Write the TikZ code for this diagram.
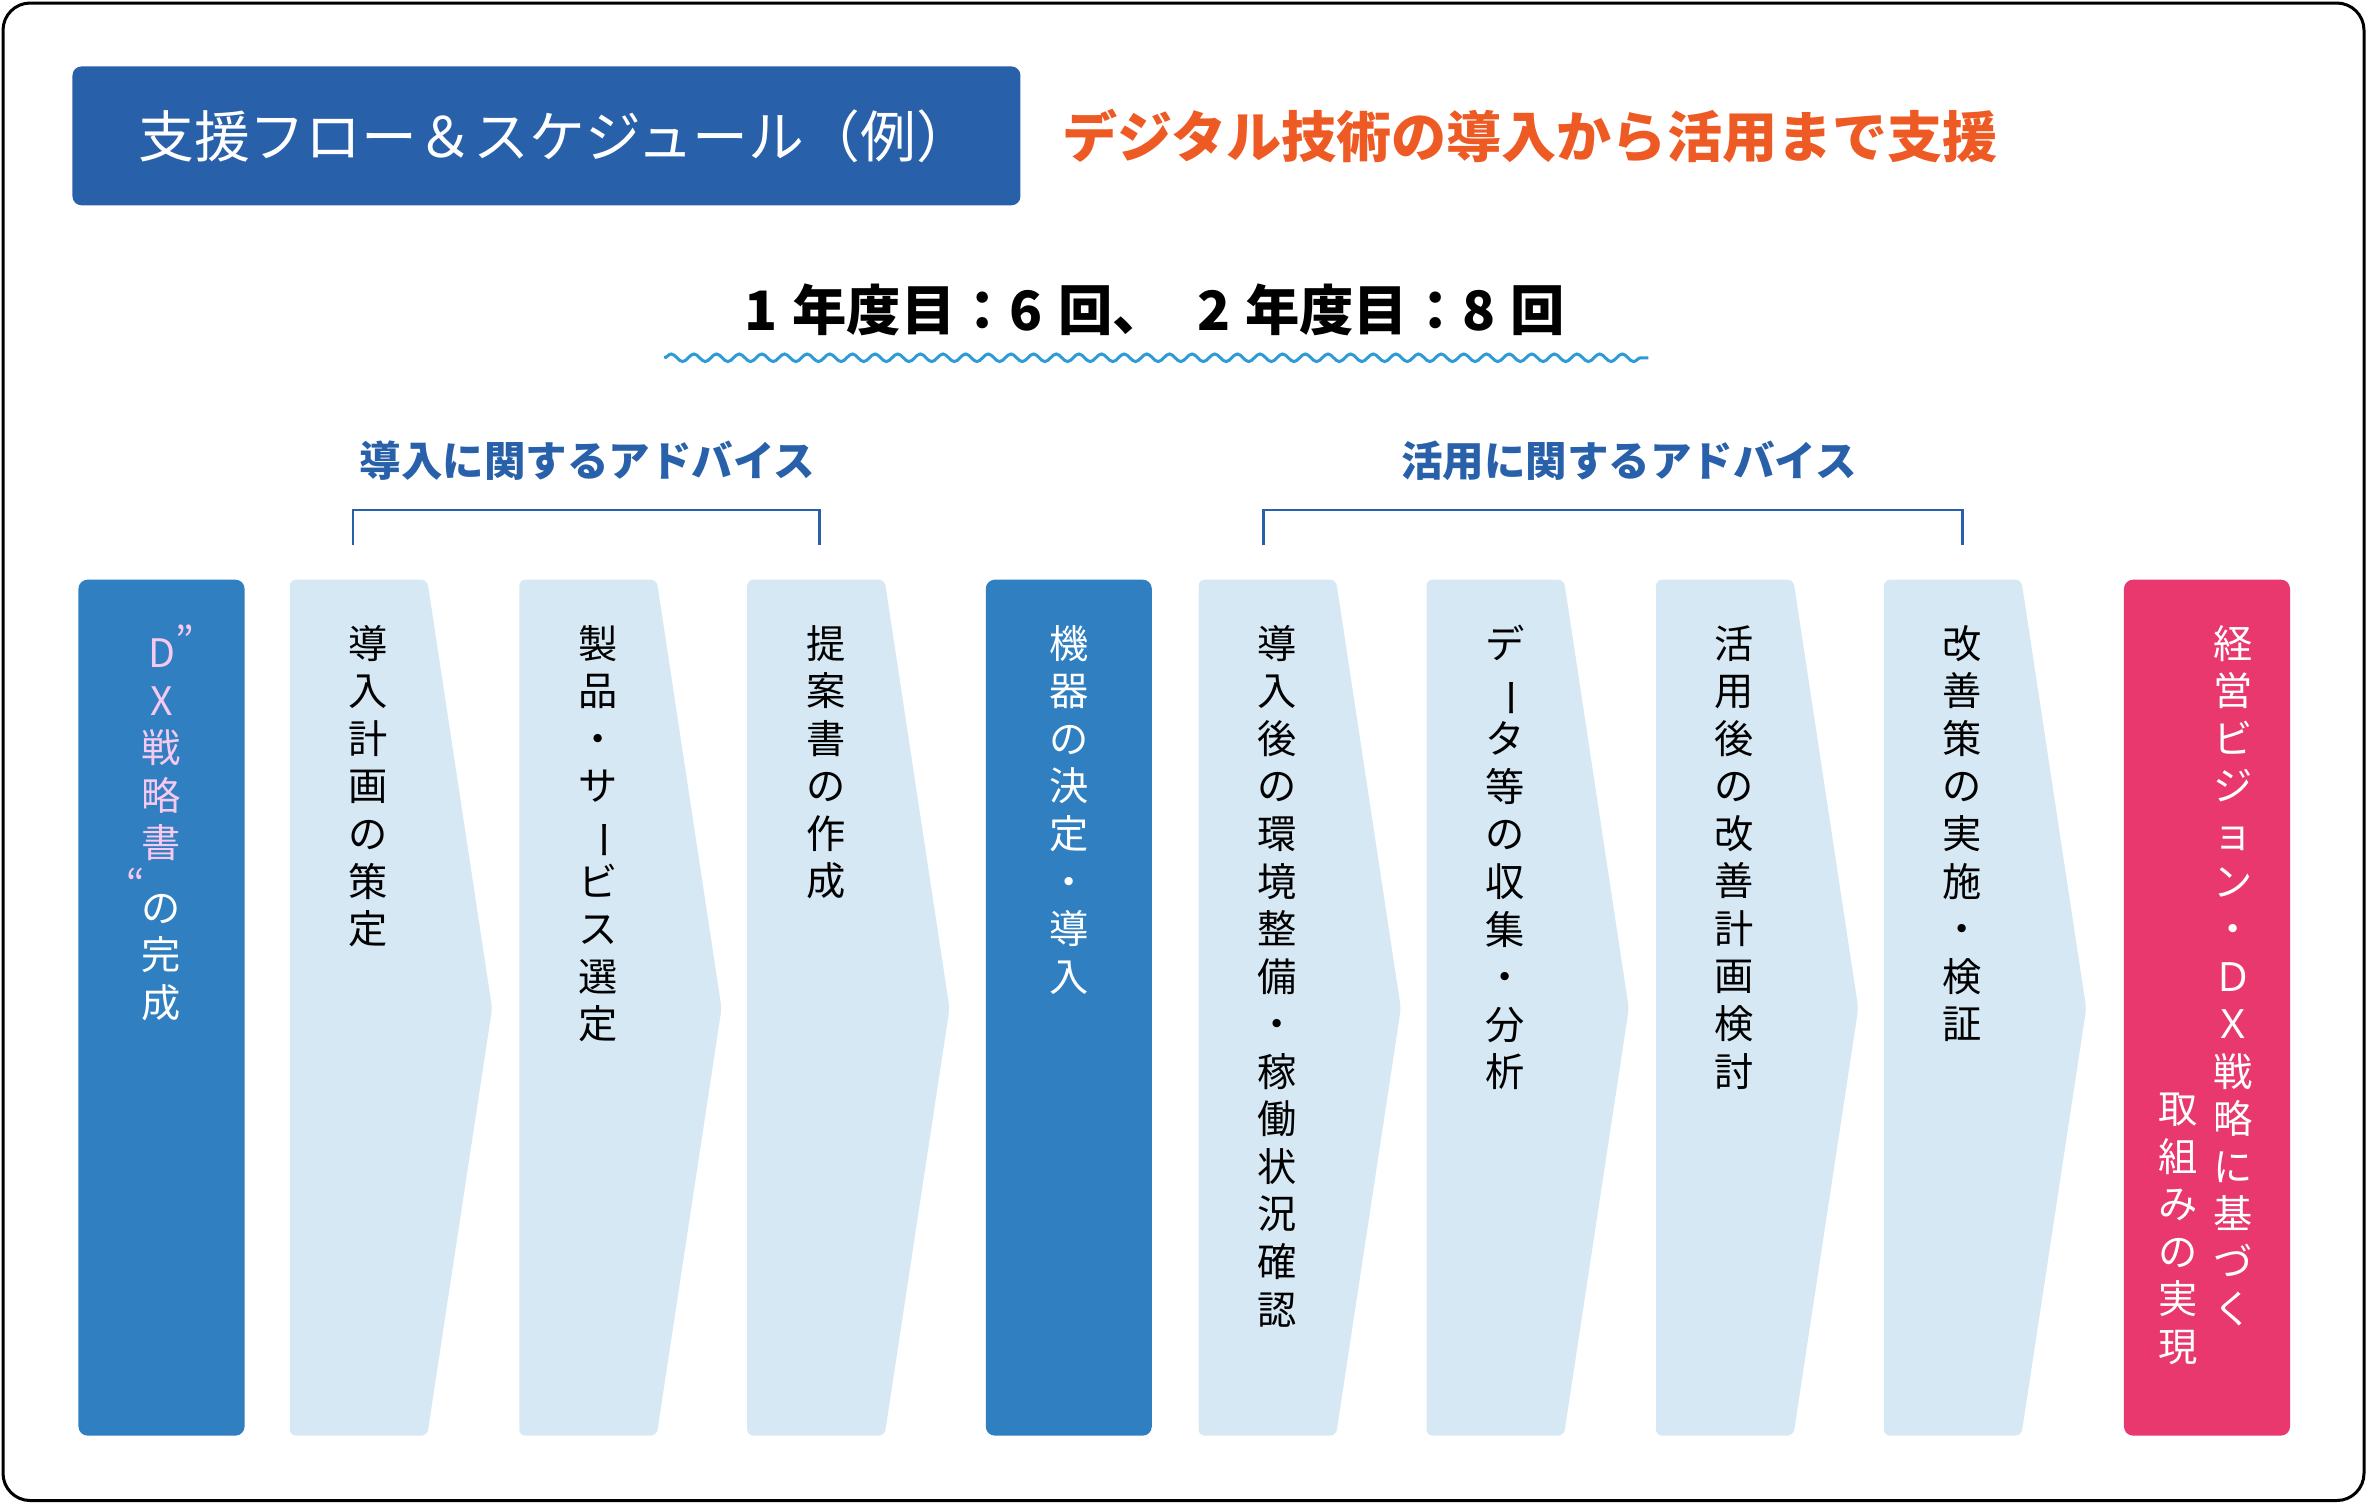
\documentclass[tikz,border=0pt]{standalone}
\usepackage{fontspec}
\usepackage{graphicx}
\setmainfont{Noto Sans CJK JP}
\usetikzlibrary{decorations.pathmorphing, positioning}
\definecolor{titleblue}{RGB}{40,96,170}
\definecolor{colblue}{RGB}{47,127,193}
\definecolor{chevfill}{RGB}{214,232,243}
\definecolor{vizpink}{RGB}{232,56,110}
\definecolor{headorange}{RGB}{238,90,36}
\definecolor{wavecyan}{RGB}{46,155,214}
\definecolor{lightpink}{RGB}{247,200,240}
\newcommand{\vbar}{\rotatebox[origin=c]{-90}{ー}}
\tikzset{vlabel/.style={anchor=north, align=center, inner sep=0pt, font=\fontsize{26}{31.5}\selectfont},
         advlabel/.style={text=titleblue, font=\fontsize{27.5}{32}\selectfont\bfseries}}
\begin{document}
\begin{tikzpicture}[x=1pt, y=-1pt,
        chevron/.style={fill=chevfill, rounded corners=4pt},
        bracketline/.style={titleblue, line width=1.6pt},
    ]
        \useasboundingbox (0,0) rectangle (1568,996);
        % Frame
        \draw[line width=2pt, rounded corners=18pt] (2,2) rectangle (1566,994);
        % Title
        \fill[titleblue, rounded corners=6pt] (48,44) rectangle (676,136);
        \node[anchor=west, text=white, font=\fontsize{37}{40}\selectfont] (title) at (88,90) {支援フロー＆スケジュール（例）};
        \node[anchor=west, text=headorange, font=\fontsize{36.5}{40}\selectfont\bfseries] (subtitle) at (700,90) {デジタル技術の導入から活用まで支援};
        % Schedule
        \node[font=\fontsize{36}{40}\selectfont\bfseries] (sched) at (765,205) {1\;年度目：6\;回、\;\;2\;年度目：8\;回};
        \coordinate (wavel) at (440,237);
        \coordinate (waver) at (1092,237);
        \draw[wavecyan, line width=2pt, decorate, decoration={snake, amplitude=2.5pt, segment length=15pt}] (wavel) -- (waver);
        % Advice groups
        \node[advlabel] (adv1) at (389,305) {導入に関するアドバイス};
        \node[advlabel] (adv2) at (1079,305) {活用に関するアドバイス};
        \draw[bracketline] (234,361) -- (234,338) -- (543,338) -- (543,361);
        \draw[bracketline] (837,361) -- (837,338) -- (1300,338) -- (1300,361);
        % Columns
        \fill[colblue, rounded corners=6pt] (52,384) rectangle (162,951);
        \fill[colblue, rounded corners=6pt] (653,384) rectangle (763,951);
        \fill[vizpink, rounded corners=6pt] (1407,384) rectangle (1517,951);
        \foreach \x/\name/\txt in {
            192/stepa/{導\\入\\計\\画\\の\\策\\定},
            344/stepb/{製\\品\\・\\サ\\\vbar\\ビ\\ス\\選\\定},
            495/stepc/{提\\案\\書\\の\\作\\成},
            794/stepd/{導\\入\\後\\の\\環\\境\\整\\備\\・\\稼\\働\\状\\況\\確\\認},
            945/stepe/{デ\\\vbar\\タ\\等\\の\\収\\集\\・\\分\\析},
            1097/stepf/{活\\用\\後\\の\\改\\善\\計\\画\\検\\討},
            1248/stepg/{改\\善\\策\\の\\実\\施\\・\\検\\証}} {
            \fill[chevron] (\x,384) -- (\x+91,384) -- (\x+134,668) -- (\x+91,951) -- (\x,951) -- cycle;
            \node[vlabel] (\name) at (\x+52,414) {\txt};
        }
        % Column texts
        \node[vlabel, text=lightpink] (dxplan) at (107,414) {D\rlap{\raisebox{0.3em}{”}}\\X\\戦\\略\\書};
        \node[vlabel, text=lightpink, anchor=north east] (dxquote) at (96,575) {“};
        \node[vlabel, text=white] (dxdone) at (107,592) {の\\完\\成};
        \node[vlabel, text=white] (device) at (708,414) {機\\器\\の\\決\\定\\・\\導\\入};
        \node[vlabel, text=white] (visiona) at (1479,414) {経\\営\\ビ\\ジ\\ョ\\ン\\・\\Ｄ\\Ｘ\\戦\\略\\に\\基\\づ\\く};
        \node[vlabel, text=white] (visionb) at (1443,724) {取\\組\\み\\の\\実\\現};
    \end{tikzpicture}
\end{document}
